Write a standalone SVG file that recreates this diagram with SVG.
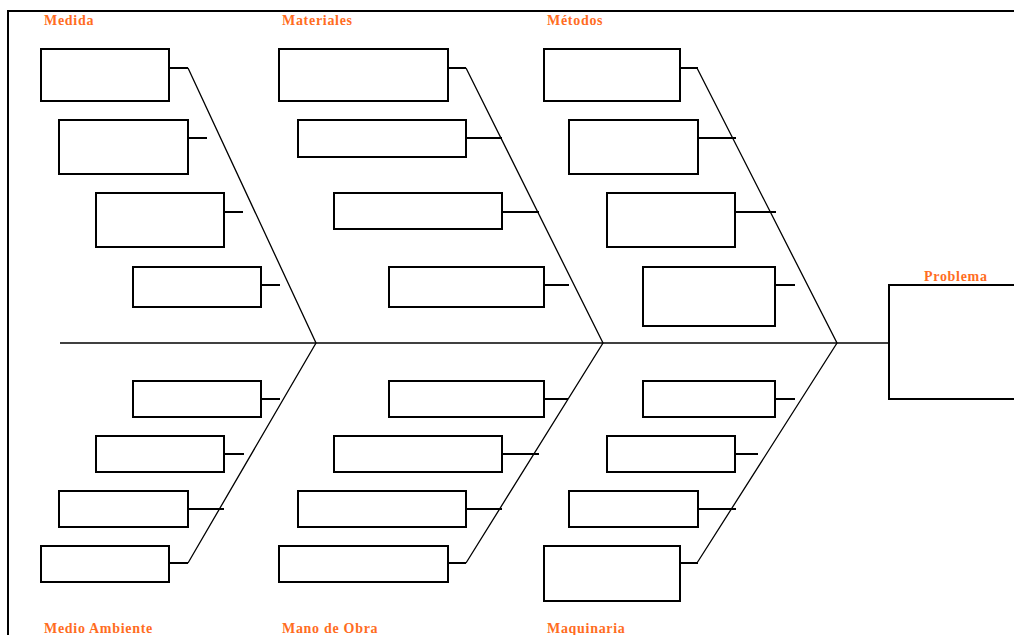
<svg xmlns="http://www.w3.org/2000/svg" width="1014" height="635" viewBox="0 0 1014 635">
<style>
.box{fill:#fff;stroke:#000;stroke-width:2}
.tick{stroke:#000;stroke-width:2;fill:none}
.bone{stroke:#000;stroke-width:1.3;fill:none}
.lbl{font-family:"Liberation Serif","Times New Roman",serif;font-weight:bold;font-size:14px;letter-spacing:0.7px;fill:#ff6d1f}
</style>
<rect x="0" y="0" width="1014" height="635" fill="#fff"/>
<rect x="8" y="11" width="1012" height="640" fill="none" stroke="#000" stroke-width="2"/>
<g id="connectors">
<line class="bone" x1="60" y1="343" x2="889" y2="343"/>
<polyline class="bone" points="188,68 316,343 188,563"/>
<polyline class="bone" points="466,68 603,343 466,563"/>
<polyline class="bone" points="697,68 837,343 697,563"/>
<line class="tick" x1="169" y1="68" x2="188" y2="68"/>
<line class="tick" x1="188" y1="138" x2="207" y2="138"/>
<line class="tick" x1="224" y1="212" x2="243" y2="212"/>
<line class="tick" x1="261" y1="285" x2="280" y2="285"/>
<line class="tick" x1="448" y1="68" x2="466" y2="68"/>
<line class="tick" x1="466" y1="138" x2="502" y2="138"/>
<line class="tick" x1="502" y1="212" x2="539" y2="212"/>
<line class="tick" x1="544" y1="285" x2="569" y2="285"/>
<line class="tick" x1="680" y1="68" x2="698" y2="68"/>
<line class="tick" x1="698" y1="138" x2="736" y2="138"/>
<line class="tick" x1="735" y1="212" x2="776" y2="212"/>
<line class="tick" x1="775" y1="285" x2="795" y2="285"/>
<line class="tick" x1="261" y1="399" x2="280" y2="399"/>
<line class="tick" x1="224" y1="454" x2="244" y2="454"/>
<line class="tick" x1="188" y1="509" x2="224" y2="509"/>
<line class="tick" x1="169" y1="563" x2="188" y2="563"/>
<line class="tick" x1="544" y1="399" x2="568" y2="399"/>
<line class="tick" x1="502" y1="454" x2="539" y2="454"/>
<line class="tick" x1="466" y1="509" x2="502" y2="509"/>
<line class="tick" x1="448" y1="563" x2="466" y2="563"/>
<line class="tick" x1="775" y1="399" x2="795" y2="399"/>
<line class="tick" x1="735" y1="454" x2="758" y2="454"/>
<line class="tick" x1="698" y1="509" x2="736" y2="509"/>
<line class="tick" x1="680" y1="563" x2="698" y2="563"/>
</g>
<g id="medida">
<text class="lbl" x="44" y="25">Medida</text>
<rect class="box" x="41" y="49" width="128" height="52"/>
<rect class="box" x="59" y="120" width="129" height="54"/>
<rect class="box" x="96" y="193" width="128" height="54"/>
<rect class="box" x="133" y="267" width="128" height="40"/>
</g>
<g id="materiales">
<text class="lbl" x="282" y="25">Materiales</text>
<rect class="box" x="279" y="49" width="169" height="52"/>
<rect class="box" x="298" y="120" width="168" height="37"/>
<rect class="box" x="334" y="193" width="168" height="36"/>
<rect class="box" x="389" y="267" width="155" height="40"/>
</g>
<g id="metodos">
<text class="lbl" x="547" y="25">Métodos</text>
<rect class="box" x="544" y="49" width="136" height="52"/>
<rect class="box" x="569" y="120" width="129" height="54"/>
<rect class="box" x="607" y="193" width="128" height="54"/>
<rect class="box" x="643" y="267" width="132" height="59"/>
</g>
<g id="problema">
<text class="lbl" x="924" y="281">Problema</text>
<rect class="box" x="889" y="285" width="140" height="114"/>
</g>
<g id="medio-ambiente">
<text class="lbl" x="44" y="633">Medio Ambiente</text>
<rect class="box" x="133" y="381" width="128" height="36"/>
<rect class="box" x="96" y="436" width="128" height="36"/>
<rect class="box" x="59" y="491" width="129" height="36"/>
<rect class="box" x="41" y="546" width="128" height="36"/>
</g>
<g id="mano-de-obra">
<text class="lbl" x="282" y="633">Mano de Obra</text>
<rect class="box" x="389" y="381" width="155" height="36"/>
<rect class="box" x="334" y="436" width="168" height="36"/>
<rect class="box" x="298" y="491" width="168" height="36"/>
<rect class="box" x="279" y="546" width="169" height="36"/>
</g>
<g id="maquinaria">
<text class="lbl" x="547" y="633">Maquinaria</text>
<rect class="box" x="643" y="381" width="132" height="36"/>
<rect class="box" x="607" y="436" width="128" height="36"/>
<rect class="box" x="569" y="491" width="129" height="36"/>
<rect class="box" x="544" y="546" width="136" height="55"/>
</g>
</svg>
